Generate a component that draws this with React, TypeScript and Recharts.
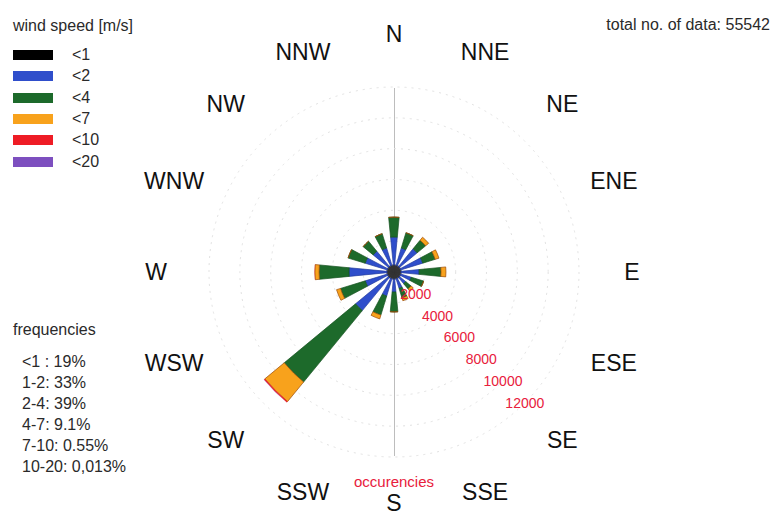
import React from 'react';
import { RadialBarChart, RadialBar, PolarGrid, PolarAngleAxis, PolarRadiusAxis } from 'recharts';

const directions = ['N', 'NNE', 'NE', 'ENE', 'E', 'ESE', 'SE', 'SSE', 'S', 'SSW', 'SW', 'WSW', 'W', 'WNW', 'NW', 'NNW'];
const speedLabels = ['<1', '<2', '<4', '<7', '<10', '<20'];
const speedKeys = ['s1', 's2', 's4', 's7', 's10', 's20'];
const speedColors = ['#000000', '#2f4ecb', '#1d6a2b', '#f8a21c', '#ee1c25', '#7d4fbf'];
const edgeColors = ['#333333', '#243c9c', '#16521f', '#9a4a08', 'none', 'none'];

// occurrences per direction, one array per wind speed class
const below1 = [450, 450, 450, 450, 450, 450, 450, 450, 450, 450, 450, 450, 450, 450, 450, 450];
const below2 = [1820, 1180, 1500, 1500, 1180, 720, 530, 660, 850, 1180, 2790, 1500, 2470, 1500, 1300, 1180];
const below4 = [1290, 1030, 710, 840, 1420, 840, 450, 650, 1290, 1290, 6000, 1680, 1940, 1160, 840, 970];
const below7 = [0, 0, 260, 260, 320, 0, 190, 190, 0, 260, 1630, 270, 270, 0, 0, 0];
const below10 = [0, 0, 0, 0, 0, 0, 0, 0, 0, 0, 80, 0, 20, 0, 0, 0];
const below20 = [0, 0, 0, 0, 0, 0, 0, 0, 0, 0, 7, 0, 0, 0, 0, 0];

const radiusTicks = [2000, 4000, 6000, 8000, 10000, 12000];
const frequencies = ['<1 : 19%', '1-2: 33%', '2-4: 39%', '4-7: 9.1%', '7-10: 0.55%', '10-20: 0,013%'];
const totalCount = 55542;

const series = [below1, below2, below4, below7, below10, below20];
const data = directions.map((dir, i) => {
    const row: any = { dir };
    speedKeys.forEach((k, j) => { row[k] = series[j][i]; });
    return row;
});

const CX = 394;
const CY = 272;
const R = 185;
const font = '"Liberation Sans", Arial, Helvetica, sans-serif';
const textColor = '#2a2a2a';

// compass labels, placed by index so N sits on top and the order runs clockwise
const AngleTick = (props: any) => {
    const { index, payload } = props;
    const a = ((90 - 22.5 * index) * Math.PI) / 180;
    const x = CX + 238 * Math.cos(a);
    const y = Math.min(CY - 238 * Math.sin(a), 503);
    return (
        <text x={x} y={y} textAnchor="middle" dominantBaseline="central" fontSize={23} fill="#111" fontFamily={font}>
            {payload.value}
        </text>
    );
};

const RadiusTick = (props: any) => {
    const { x, y, payload } = props;
    return (
        <text x={x} y={y} textAnchor="middle" dominantBaseline="central" fontSize={14} fill="#e8203c" fontFamily={font}>
            {payload.value}
        </text>
    );
};

const txt = (left: number, cy: number, s: string) => (
    <div key={s + left + cy} style={{ position: 'absolute', left, top: cy - 9, lineHeight: '18px', fontSize: 16, color: textColor, whiteSpace: 'nowrap' }}>{s}</div>
);

const WindRose = () => {
    return (
        <div style={{ position: 'absolute', left: 0, top: 0, width: 775, height: 518, background: '#fff', fontFamily: font }}>
            {/* north-south axis */}
            <div style={{ position: 'absolute', left: CX - 0.5, top: CY - R + 1, width: 1, height: 2 * R - 2, background: '#bdbdbd' }} />
            <RadialBarChart
                width={775}
                height={518}
                data={data}
                layout="centric"
                cx={CX}
                cy={CY}
                innerRadius={0}
                outerRadius={R}
                startAngle={78.75}
                endAngle={-281.25}
                barCategoryGap="26%"
                margin={{ top: 0, right: 0, bottom: 0, left: 0 }}
            >
                <PolarGrid gridType="circle" radialLines={false} stroke="#e2e2e2" strokeDasharray="2 5" />
                <PolarAngleAxis type="category" dataKey="dir" tick={<AngleTick />} axisLine={false} tickLine={false} />
                <PolarRadiusAxis type="number" domain={[0, 12000]} ticks={radiusTicks} angle={-45} axisLine={false} tickLine={false} tick={<RadiusTick />} />
                {speedKeys.map((k, j) => (
                    <RadialBar
                        key={k}
                        dataKey={k}
                        name={speedLabels[j]}
                        stackId="a"
                        fill={speedColors[j]}
                        stroke={edgeColors[j]}
                        strokeWidth={j === 0 ? 1.5 : 0.7}
                        isAnimationActive={false}
                    />
                ))}
            </RadialBarChart>

            {txt(13, 26, 'wind speed [m/s]')}
            {speedLabels.map((s, j) => (
                <React.Fragment key={s}>
                    <div style={{ position: 'absolute', left: 13, top: 55 + j * 21.3 - 5, width: 40, height: 10, background: speedColors[j] }} />
                    {txt(72, 55 + j * 21.3, s)}
                </React.Fragment>
            ))}

            {txt(13, 330, 'frequencies')}
            {frequencies.map((f, j) => txt(22, 362 + j * 21, f))}

            <div style={{ position: 'absolute', right: 5, top: 16, lineHeight: '18px', fontSize: 16, color: textColor }}>
                total no. of data: {totalCount}
            </div>
            <div style={{ position: 'absolute', left: 294, width: 200, textAlign: 'center', top: 473, lineHeight: '18px', fontSize: 15, color: '#e8203c' }}>
                occurencies
            </div>
        </div>
    );
};

export default function App() {
    return <WindRose />;
}
